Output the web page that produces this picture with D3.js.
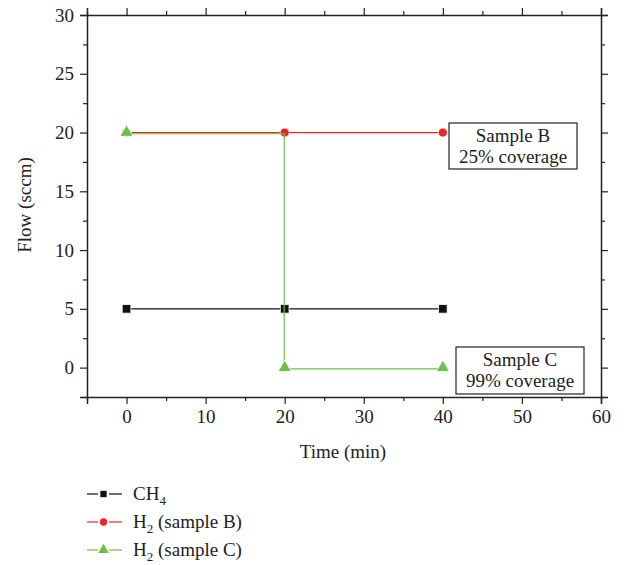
<!DOCTYPE html>
<html><head><meta charset="utf-8">
<script src="https://cdn.jsdelivr.net/npm/d3@7"></script>
<style>body{margin:0;background:#fff}svg{display:block}text{font-family:"Liberation Serif","DejaVu Serif",serif;fill:#222}</style>
</head><body><svg id="c" width="624" height="565"></svg>
<script>
const times = [0, 20, 40];
const ch4 = [5, 5, 5];
const h2B = [20, 20, 20];
const h2CTimes = [0, 20, 20, 40];
const h2C = [20, 20, 0, 0];
const h2CMarkerTimes = [0, 20, 40];
const h2CMarkers = [20, 0, 0];
const xTicks = [0, 10, 20, 30, 40, 50, 60];
const yTicks = [0, 5, 10, 15, 20, 25, 30];

const svg = d3.select("#c");
const L = 87, R = 601, T = 15, B = 397;
const x = d3.scaleLinear().domain([-5, 60]).range([L, R]);
const y = d3.scaleLinear().domain([-2.5, 30]).range([B, T]);
const ink = "#222";
const FS = 19;

const minorX = d3.range(-5, 61, 5).filter(v => !xTicks.includes(v));
const minorY = d3.range(-2.5, 30.1, 2.5).filter(v => !yTicks.includes(v));

function axis(pos, gen, vals, minor, labels) {
  const g = svg.append("g").attr("transform", pos);
  g.call(gen.tickValues(vals).tickSize(7).tickPadding(6).tickFormat(labels ? d3.format("d") : () => ""));
  g.selectAll(".domain").attr("stroke", ink).attr("stroke-width", 1.5);
  g.selectAll(".tick line").attr("stroke", ink).attr("stroke-width", 1.2);
  g.selectAll(".tick text").attr("font-size", FS).attr("font-family", '"Liberation Serif",serif').attr("fill", ink);
  if (!labels) g.selectAll(".tick text").remove();
  const gm = svg.append("g").attr("transform", pos);
  gm.call(gen.tickValues(minor).tickSize(4).tickFormat(""));
  gm.select(".domain").remove();
  gm.selectAll(".tick line").attr("stroke", ink).attr("stroke-width", 1.2);
  gm.selectAll(".tick text").remove();
}
axis(`translate(0,${B})`, d3.axisBottom(x), xTicks, minorX, true);
axis(`translate(0,${T})`, d3.axisTop(x), xTicks, minorX, false);
axis(`translate(${L},0)`, d3.axisLeft(y), yTicks, minorY, true);
axis(`translate(${R},0)`, d3.axisRight(y), yTicks, minorY, false);

svg.append("text").attr("x", 343).attr("y", 458).attr("text-anchor", "middle").attr("font-size", FS).text("Time (min)");
svg.append("text").attr("transform", "translate(31,205) rotate(-90)").attr("text-anchor", "middle").attr("font-size", FS).text("Flow (sccm)");

const line = d3.line().x(d => x(d[0])).y(d => y(d[1]));
const black = "#111", red = "#ee2424", green = "#6cc04a";

const tri = d3.symbol().type(d3.symbolTriangle).size(75);
const circ = d3.symbol().type(d3.symbolCircle).size(65);
const sq = d3.symbol().type(d3.symbolSquare).size(75);

function markers(cls, data, sym, col) {
  svg.selectAll("." + cls).data(data).enter().append("path").attr("class", cls)
    .attr("d", sym).attr("transform", d => `translate(${x(d[0])},${y(d[1])})`)
    .attr("fill", col).attr("stroke", "#fff").attr("stroke-width", 0.8);
}

// CH4
svg.append("path").datum(times.map((t, i) => [t, ch4[i]])).attr("d", line).attr("fill", "none").attr("stroke", black).attr("stroke-width", 1.2);
markers("sq", times.map((t, i) => [t, ch4[i]]), sq, black);
// H2 B
svg.append("path").datum(times.map((t, i) => [t, h2B[i]])).attr("d", line).attr("fill", "none").attr("stroke", red).attr("stroke-width", 1.2);
markers("ci", times.map((t, i) => [t, h2B[i]]), circ, red);
// H2 C
svg.append("path").datum(h2CTimes.map((t, i) => [t, h2C[i]])).attr("d", line).attr("fill", "none").attr("stroke", green).attr("stroke-width", 1.2).attr("transform", "translate(-0.5,1.2)");
markers("tr", h2CMarkerTimes.map((t, i) => [t, h2CMarkers[i]]), tri, green);

// annotation boxes
function box(x0, y0, w, h, l1, l2) {
  svg.append("rect").attr("x", x0).attr("y", y0).attr("width", w).attr("height", h).attr("fill", "#fff").attr("stroke", ink).attr("stroke-width", 1.2);
  svg.append("text").attr("x", x0 + w / 2).attr("y", y0 + 19).attr("text-anchor", "middle").attr("font-size", FS).text(l1);
  svg.append("text").attr("x", x0 + w / 2).attr("y", y0 + 40).attr("text-anchor", "middle").attr("font-size", FS).text(l2);
}
box(449, 123, 128, 46, "Sample B", "25% coverage");
box(456, 347, 128, 47, "Sample C", "99% coverage");

// legend
const leg = [
  {c: black, t: d3.symbolSquare, sz: 40, base: "CH", sub: "4", rest: ""},
  {c: red, t: d3.symbolCircle, sz: 42, base: "H", sub: "2", rest: " (sample B)"},
  {c: green, t: d3.symbolTriangle, sz: 50, base: "H", sub: "2", rest: " (sample C)"}
];
leg.forEach((d, i) => {
  const yy = 494 + i * 28;
  const g = svg.append("g");
  g.append("line").attr("x1", 87).attr("x2", 98).attr("y1", yy).attr("y2", yy).attr("stroke", d.c).attr("stroke-width", 1.2);
  g.append("line").attr("x1", 109).attr("x2", 122).attr("y1", yy).attr("y2", yy).attr("stroke", d.c).attr("stroke-width", 1.2);
  g.append("path").attr("d", d3.symbol().type(d.t).size(d.sz)).attr("transform", `translate(103.5,${yy})`).attr("fill", d.c);
  const t = g.append("text").attr("x", 133).attr("y", yy + 6).attr("font-size", FS);
  t.append("tspan").text(d.base);
  t.append("tspan").attr("font-size", 13).attr("dy", 5).text(d.sub);
  t.append("tspan").attr("dy", -5).text(d.rest);
});
</script></body></html>
